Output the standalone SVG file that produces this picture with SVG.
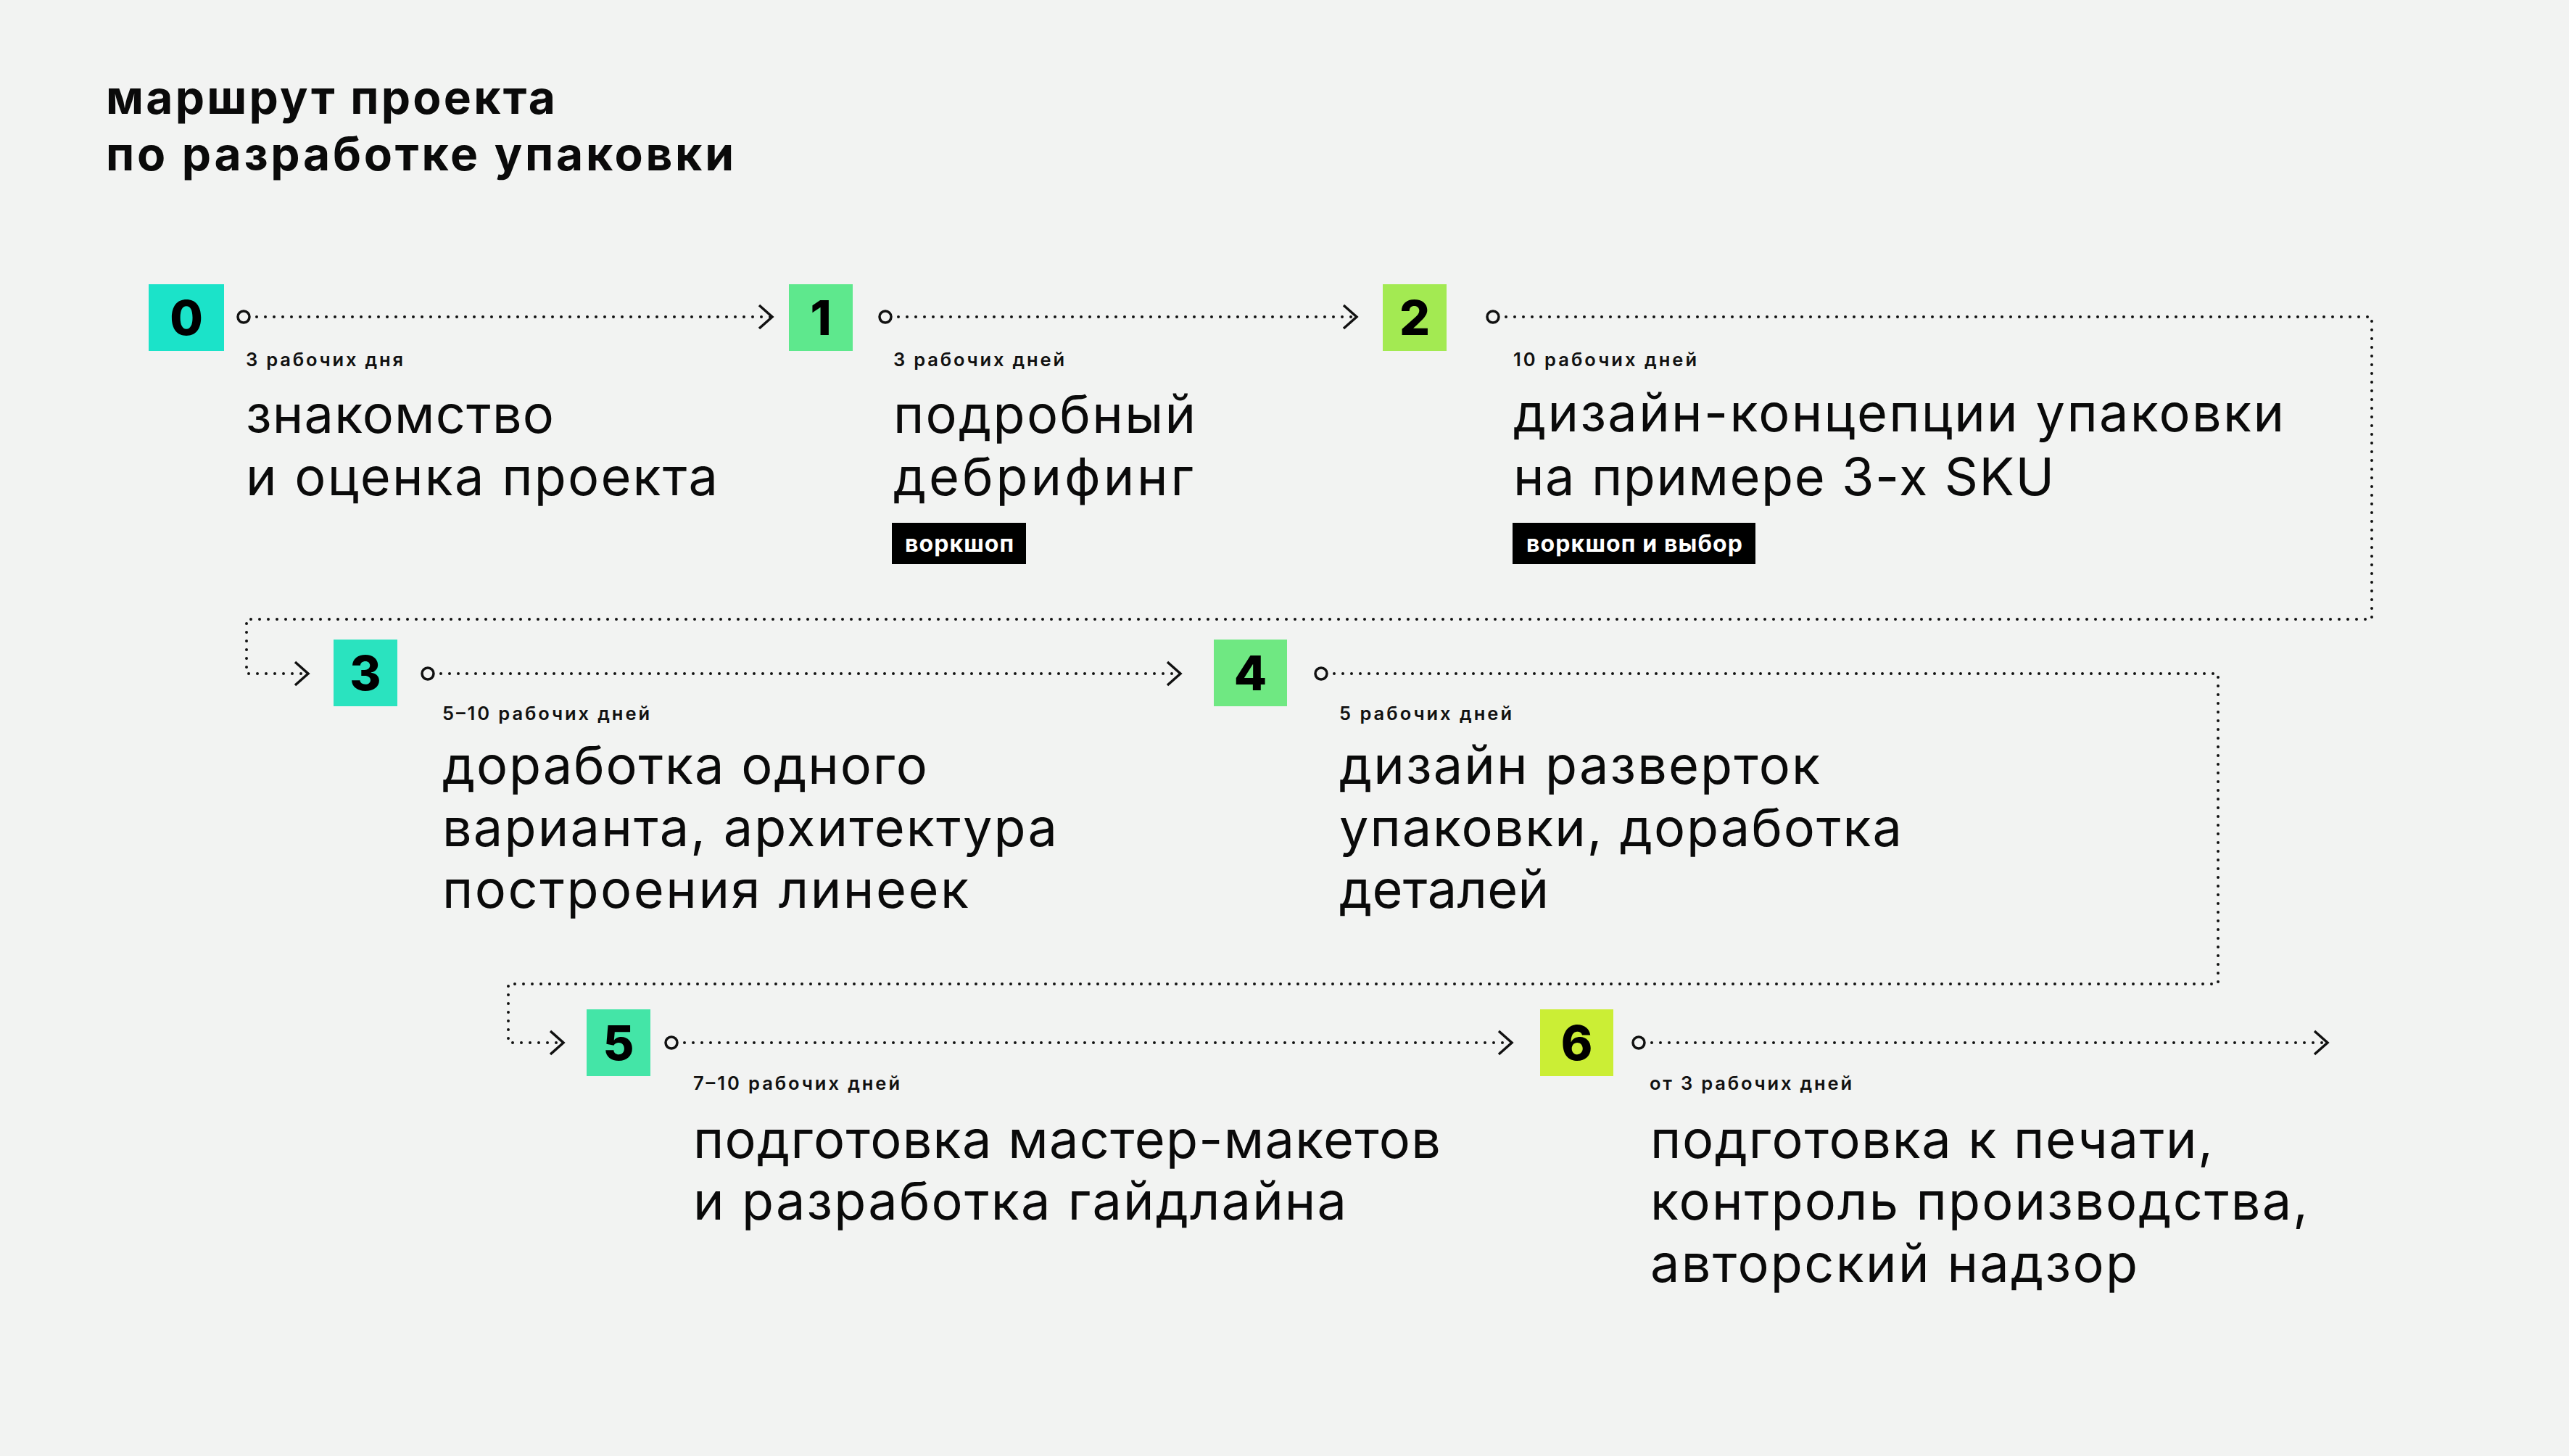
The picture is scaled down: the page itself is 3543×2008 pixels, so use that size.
<svg xmlns="http://www.w3.org/2000/svg" width="3543" height="2008" viewBox="0 0 3543 2008">
<style>
.bg{fill:#F2F3F2}
.title{font-family:Inter,"Noto Sans",sans-serif;font-weight:700;font-size:64px;fill:#0a0a0a}
.num{font-family:Inter,"Noto Sans",sans-serif;font-weight:800;font-size:66px;fill:#000;text-anchor:middle}
.small{font-family:Inter,"Noto Sans",sans-serif;font-weight:600;font-size:25.5px;fill:#111}
.big{font-family:Inter,"Noto Sans",sans-serif;font-weight:400;font-size:72px;fill:#0a0a0a}
.tagbg{fill:#000}
.tag{font-family:Inter,"Noto Sans",sans-serif;font-weight:700;font-size:32px;fill:#fff}
.dot{fill:none;stroke:#111;stroke-width:4;stroke-linecap:round;stroke-dasharray:0 12}
.start{fill:none;stroke:#111;stroke-width:3.5}
</style>
<defs>
<marker id="chev" viewBox="0 0 24 36" refX="21" refY="18" markerWidth="24" markerHeight="36" markerUnits="userSpaceOnUse" orient="auto">
<path d="M3,2 L21,18 L3,34" fill="none" stroke="#111" stroke-width="3.5" stroke-dasharray="none" stroke-linecap="butt"/>
</marker>
</defs>
<rect class="bg" x="0" y="0" width="3543" height="2008"/>
<g id="title">
<text class="title" x="146" y="157" textLength="620">маршрут проекта</text>
<text class="title" x="146" y="235" textLength="866">по разработке упаковки</text>
</g>
<g id="connectors">
<path class="dot" d="M354,437 H1065" marker-end="url(#chev)"/>
<path class="dot" d="M1239,437 H1871" marker-end="url(#chev)"/>
<path class="dot" d="M2077,437 H3271 V854 H340 V929 H425" marker-end="url(#chev)"/>
<path class="dot" d="M608,929 H1628" marker-end="url(#chev)"/>
<path class="dot" d="M1840,929 H3059 V1357 H701 V1438 H777" marker-end="url(#chev)"/>
<path class="dot" d="M944,1438 H2085" marker-end="url(#chev)"/>
<path class="dot" d="M2278,1438 H3210" marker-end="url(#chev)"/>
<circle class="start" cx="336" cy="437" r="8"/>
<circle class="start" cx="1221" cy="437" r="8"/>
<circle class="start" cx="2059" cy="437" r="8"/>
<circle class="start" cx="590" cy="929" r="8"/>
<circle class="start" cx="1822" cy="929" r="8"/>
<circle class="start" cx="926" cy="1438" r="8"/>
<circle class="start" cx="2260" cy="1438" r="8"/>
</g>
<g id="step0">
<rect x="205" y="392" width="104" height="92" fill="#1BE3C9"/>
<text class="num" x="257" y="462">0</text>
<text class="small" x="339" y="505" textLength="217">3 рабочих дня</text>
<text class="big" x="339" y="597" textLength="425">знакомство</text>
<text class="big" x="339" y="683" textLength="651">и оценка проекта</text>
</g>
<g id="step1">
<rect x="1088" y="392" width="88" height="92" fill="#5EE88D"/>
<text class="num" x="1132" y="462">1</text>
<text class="small" x="1232" y="505" textLength="236">3 рабочих дней</text>
<text class="big" x="1232" y="597" textLength="417">подробный</text>
<text class="big" x="1232" y="683" textLength="414">дебрифинг</text>
<rect class="tagbg" x="1230" y="721" width="185" height="57"/>
<text class="tag" x="1248" y="761" textLength="150">воркшоп</text>
</g>
<g id="step2">
<rect x="1907" y="392" width="88" height="92" fill="#A3EA52"/>
<text class="num" x="1951" y="462">2</text>
<text class="small" x="2087" y="505" textLength="253">10 рабочих дней</text>
<text class="big" x="2087" y="595" textLength="1063">дизайн-концепции упаковки</text>
<text class="big" x="2087" y="683" textLength="746">на примере 3-х SKU</text>
<rect class="tagbg" x="2086" y="721" width="335" height="57"/>
<text class="tag" x="2105" y="761" textLength="298">воркшоп и выбор</text>
</g>
<g id="step3">
<rect x="460" y="882" width="88" height="92" fill="#2AE3BF"/>
<text class="num" x="504" y="952">3</text>
<text class="small" x="610" y="993" textLength="286">5–10 рабочих дней</text>
<text class="big" x="610" y="1081" textLength="669">доработка одного</text>
<text class="big" x="610" y="1167" textLength="848">варианта, архитектура</text>
<text class="big" x="610" y="1252" textLength="726">построения линеек</text>
</g>
<g id="step4">
<rect x="1674" y="882" width="101" height="92" fill="#6FE882"/>
<text class="num" x="1724.5" y="952">4</text>
<text class="small" x="1847" y="993" textLength="238">5 рабочих дней</text>
<text class="big" x="1847" y="1081" textLength="663">дизайн разверток</text>
<text class="big" x="1847" y="1167" textLength="776">упаковки, доработка</text>
<text class="big" x="1847" y="1252" textLength="289">деталей</text>
</g>
<g id="step5">
<rect x="809" y="1392" width="88" height="92" fill="#44E5A7"/>
<text class="num" x="853" y="1462">5</text>
<text class="small" x="956" y="1503" textLength="285">7–10 рабочих дней</text>
<text class="big" x="956" y="1597" textLength="1031">подготовка мастер-макетов</text>
<text class="big" x="956" y="1682" textLength="901">и разработка гайдлайна</text>
</g>
<g id="step6">
<rect x="2124" y="1392" width="101" height="92" fill="#CBEE35"/>
<text class="num" x="2174.5" y="1462">6</text>
<text class="small" x="2275" y="1503" textLength="279">от 3 рабочих дней</text>
<text class="big" x="2276" y="1597" textLength="776">подготовка к печати,</text>
<text class="big" x="2276" y="1682" textLength="907">контроль производства,</text>
<text class="big" x="2276" y="1768" textLength="672">авторский надзор</text>
</g>
</svg>
